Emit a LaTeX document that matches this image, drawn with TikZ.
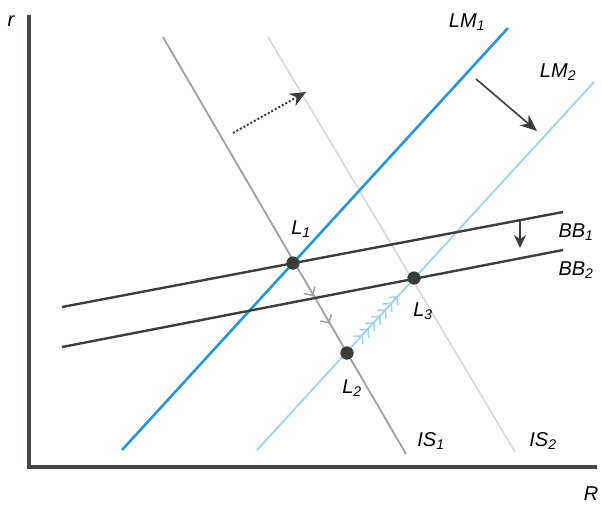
\documentclass[tikz,border=0pt]{standalone}
\usepackage{fontspec}
\setmainfont{Liberation Sans}
\usetikzlibrary{arrows.meta,decorations.markings}
\definecolor{axisc}{RGB}{70,72,70}
\definecolor{lmone}{RGB}{40,150,215}
\definecolor{lmtwo}{RGB}{160,210,240}
\definecolor{isone}{RGB}{160,160,160}
\definecolor{istwo}{RGB}{215,215,215}
\definecolor{bbc}{RGB}{60,62,60}
\definecolor{ptc}{RGB}{55,60,55}
\tikzset{
  lbl/.style={font=\fontsize{20}{22}\selectfont\itshape, inner sep=0pt},
  pt/.style={circle, fill=ptc, minimum size=13pt, inner sep=0pt},
  axisline/.style={axisc, line width=3.5pt},
  bbline/.style={bbc, line width=2.4pt},
  chevb/.style={decorate, decoration={markings, mark=between positions 0.2 and 0.9 step 0.1 with {\arrow[lmtwo, line width=1.5pt]{Straight Barb[length=6pt,width=12pt]}}}},
  chevg/.style={decorate, decoration={markings, mark=at position 0.35 with {\arrow[isone, line width=1.5pt]{Straight Barb[length=6pt,width=13pt]}}, mark=at position 0.7 with {\arrow[isone, line width=1.5pt]{Straight Barb[length=6pt,width=13pt]}}}}
}
\begin{document}
\begin{tikzpicture}[x=1pt,y=-1pt]
\path[use as bounding box] (0,0) rectangle (602,507);
% axes
\coordinate (O) at (29,467);
\coordinate (Ytop) at (29,15);
\coordinate (Xend) at (597,467);
\draw[axisline] (Ytop) -- (O) -- (Xend);
\node[lbl] (rlab) at (11,21) {r};
\node[lbl] (Rlab) at (591,494) {R};
% points
\node[pt] (L1) at (293,263) {};
\node[pt] (L2) at (347,353) {};
\node[pt] (L3) at (414,278) {};
% IS curves
\coordinate (IS1a) at (163,37);
\coordinate (IS1b) at (406,454);
\coordinate (IS2a) at (268,37);
\coordinate (IS2b) at (515,452);
\draw[istwo, line width=1.6pt] (IS2a) -- (IS2b);
\draw[isone, line width=1.8pt] (IS1a) -- (IS1b);
% LM curves
\coordinate (LM1a) at (122,450);
\coordinate (LM1b) at (508,28);
\coordinate (LM2a) at (257,450);
\coordinate (LM2b) at (594,82);
\draw[lmtwo, line width=1.8pt] (LM2a) -- (LM2b);
\draw[lmone, line width=2.6pt] (LM1a) -- (LM1b);
% BB curves
\coordinate (BB1a) at (62,307);
\coordinate (BB1b) at (563,212);
\coordinate (BB2a) at (62,347);
\coordinate (BB2b) at (563,250);
\draw[bbline] (BB1a) -- (BB1b);
\draw[bbline] (BB2a) -- (BB2b);
% chevrons
\path[chevb] (L2) -- (L3);
\path[chevg] (L1) -- (L2);
% redraw points on top
\node[pt] at (L1) {};
\node[pt] at (L2) {};
\node[pt] at (L3) {};
% shift arrows
\coordinate (ISar1) at (233,133);
\coordinate (ISar2) at (306,92);
\draw[bbc, line width=2pt, dotted, -{Stealth[length=16pt,width=14pt,line width=0pt]}] (ISar1) -- (ISar2);
\coordinate (LMar1) at (476,79);
\coordinate (LMar2) at (537,131);
\draw[bbc, line width=1.6pt, -{Stealth[length=17pt,width=14pt]}] (LMar1) -- (LMar2);
\coordinate (BBar1) at (520,220);
\coordinate (BBar2) at (520,248);
\draw[bbc, line width=1.6pt, -{Stealth[length=13pt,width=12pt]}] (BBar1) -- (BBar2);
% labels
\node[lbl] (lL1) at (301,229) {L\textsubscript{1}};
\node[lbl] (lL2) at (352,388) {L\textsubscript{2}};
\node[lbl] (lL3) at (423,311) {L\textsubscript{3}};
\node[lbl] (lLM1) at (467,22) {LM\textsubscript{1}};
\node[lbl] (lLM2) at (558,72) {LM\textsubscript{2}};
\node[lbl] (lBB1) at (576,232) {BB\textsubscript{1}};
\node[lbl] (lBB2) at (576,270) {BB\textsubscript{2}};
\node[lbl] (lIS1) at (431,441) {IS\textsubscript{1}};
\node[lbl] (lIS2) at (543,441) {IS\textsubscript{2}};
\end{tikzpicture}
\end{document}
